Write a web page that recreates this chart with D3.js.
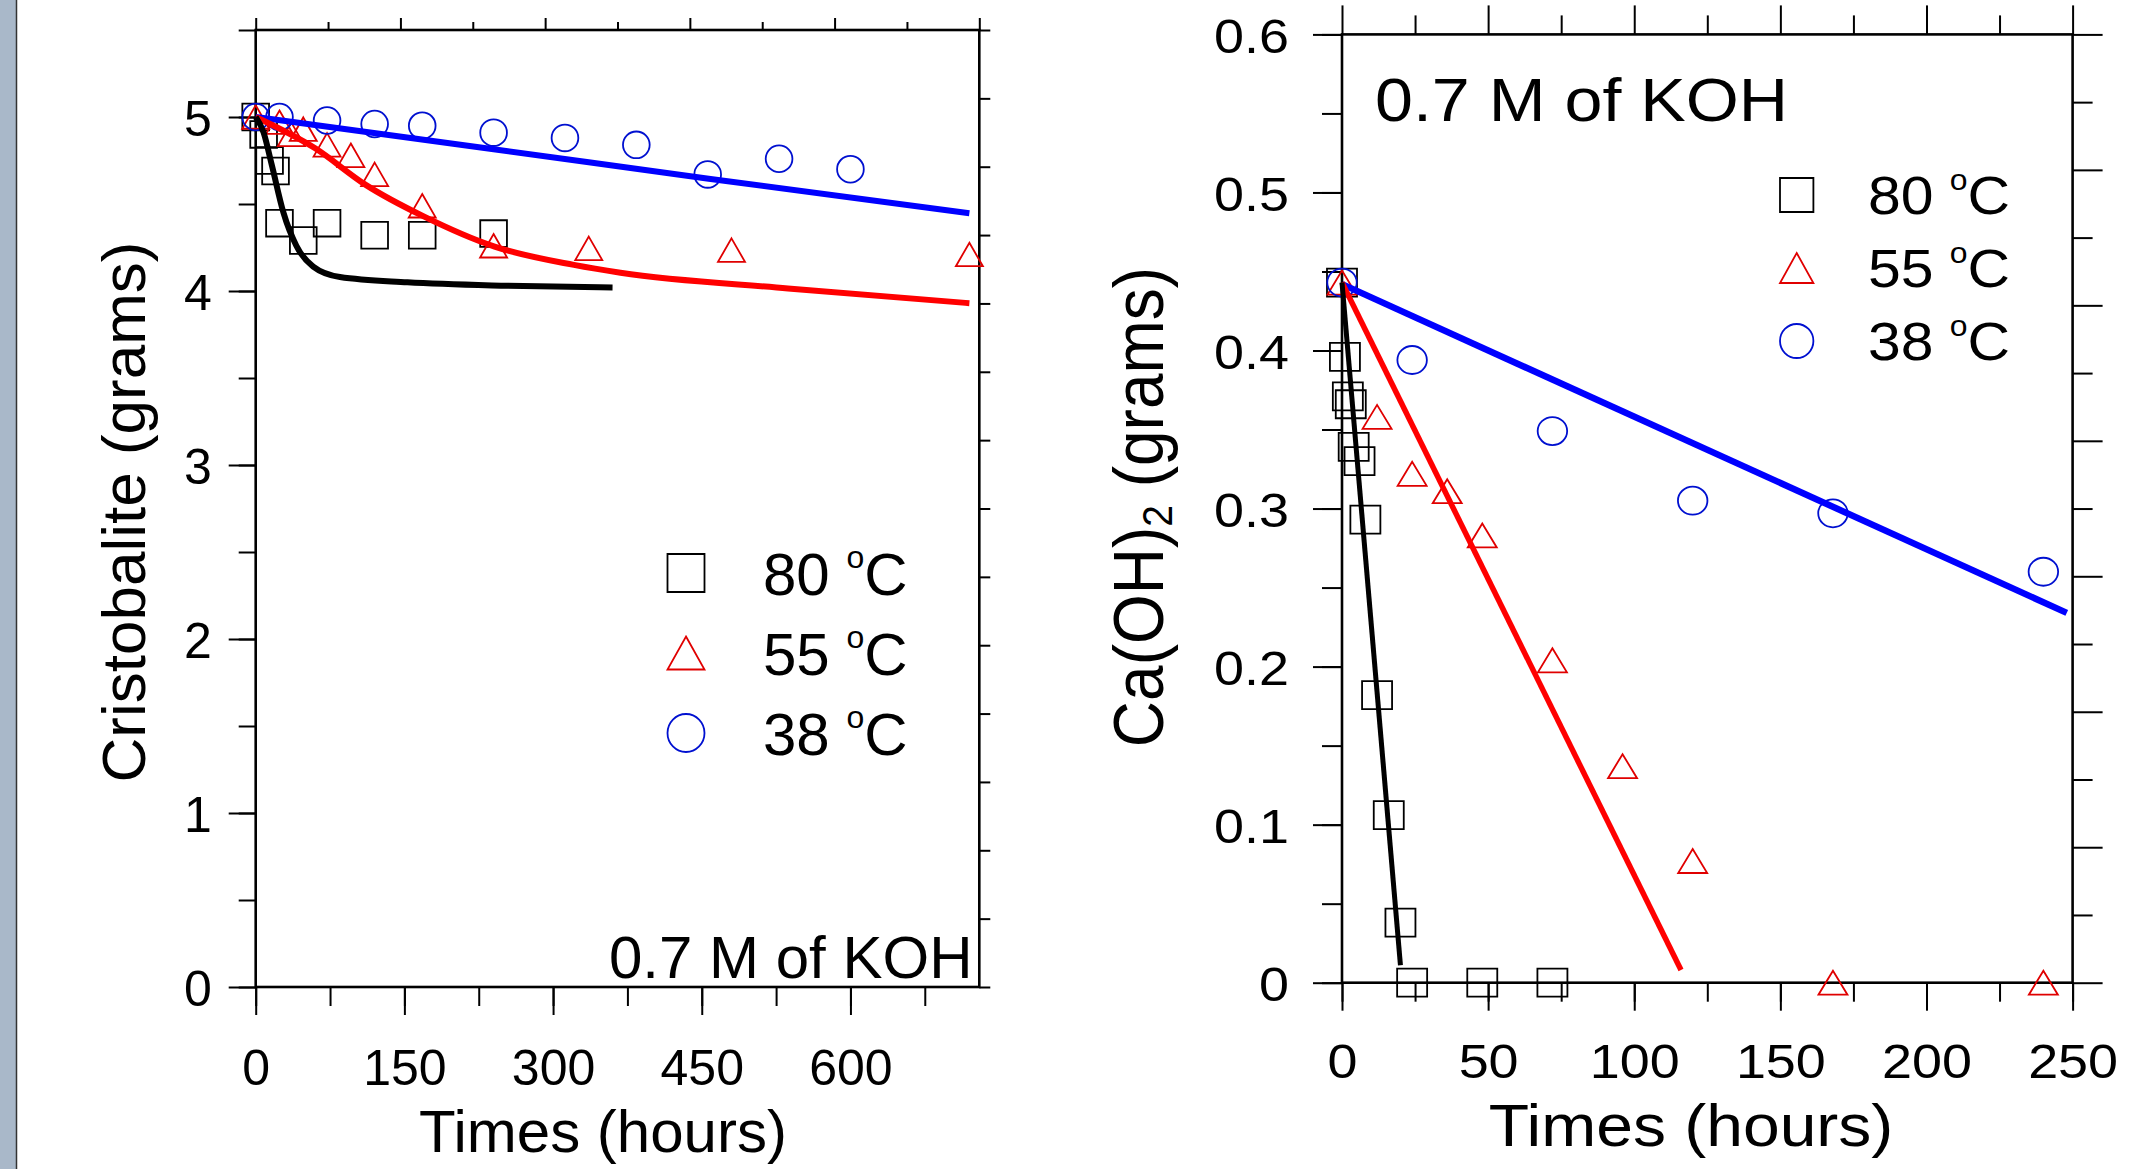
<!DOCTYPE html>
<html>
<head>
<meta charset="utf-8">
<script src="https://cdn.jsdelivr.net/npm/d3@7"></script>
<style>
  body { margin: 0; background: #fff; }
  svg text { font-family: "Liberation Sans", Arial, sans-serif; fill: #000; }
</style>
</head>
<body>
<div id="chart"></div>
<script>
// ---- data ----
// left panel: cristobalite mass (g) vs time (h)
const crisT80 = [0, 8, 14, 20, 24, 48, 72, 120, 168, 240];
const crisM80 = [5.0, 4.90, 4.75, 4.69, 4.39, 4.29, 4.39, 4.32, 4.32, 4.33];
const crisT55 = [0, 24, 36, 48, 72, 96, 120, 168, 240, 336, 480, 720];
const crisM55 = [5.0, 4.97, 4.90, 4.93, 4.84, 4.78, 4.67, 4.49, 4.26, 4.245, 4.235, 4.21];
const crisT38 = [0, 24, 72, 120, 168, 240, 312, 384, 456, 528, 600];
const crisM38 = [5.0, 5.0, 4.98, 4.96, 4.95, 4.91, 4.88, 4.84, 4.67, 4.76, 4.70];
// model curves (left)
const fitT80 = [0, 8, 16, 28, 41, 58, 85, 153, 254, 360];
const fitM80 = [5.0, 4.91, 4.73, 4.45, 4.26, 4.14, 4.08, 4.05, 4.03, 4.02];
const fitT55 = [0, 60, 111, 169, 241, 321, 368, 537, 720];
const fitM55 = [5.0, 4.82, 4.61, 4.43, 4.255, 4.15, 4.105, 4.015, 3.93];
const fitT38 = [0, 240, 457, 720];
const fitM38 = [5.0, 4.815, 4.645, 4.447];

// right panel: Ca(OH)2 mass (g) vs time (h)
const caT80 = [0, 1, 2, 3, 4, 6, 8, 12, 16, 20, 24, 48, 72];
const caM80 = [0.443, 0.396, 0.371, 0.366, 0.339, 0.330, 0.293, 0.182, 0.106, 0.038, 0, 0, 0];
const caT55 = [0, 12, 24, 36, 48, 72, 96, 120, 168, 240];
const caM55 = [0.443, 0.358, 0.322, 0.311, 0.283, 0.204, 0.137, 0.077, 0, 0];
const caT38 = [0, 24, 72, 120, 168, 240];
const caM38 = [0.443, 0.394, 0.349, 0.305, 0.297, 0.260];
// linear fits (right)
const lineT80 = [0, 20], lineM80 = [0.443, 0.011];
const lineT55 = [0, 116], lineM55 = [0.443, 0.008];
const lineT38 = [0, 248], lineM38 = [0.442, 0.234];

const legendLabels = ["80", "55", "38"];
const crisTicksX = [0, 150, 300, 450, 600];
const crisTicksY = [0, 1, 2, 3, 4, 5];
const caTicksX = [0, 50, 100, 150, 200, 250];
const caTicksY = [0, 0.1, 0.2, 0.3, 0.4, 0.5, 0.6];

const zip = (a, b) => a.map((v, i) => [v, b[i]]);

const svg = d3.select("#chart").append("svg")
    .attr("width", 2148)
    .attr("height", 1169);

svg.append("rect").attr("width", 2148).attr("height", 1169).attr("fill", "#fff");
// grey strip on the left edge
svg.append("rect").attr("x", 0).attr("y", 0).attr("width", 16).attr("height", 1169).attr("fill", "#a9b8c9");
svg.append("line").attr("x1", 16.5).attr("x2", 16.5).attr("y1", 0).attr("y2", 1169)
    .attr("stroke", "#333").attr("stroke-width", 1.5);

const colors = {k: "#000", r: "#e00000", b: "#0010d0"};
const lineColors = {k: "#000", r: "#ff0000", b: "#0000ff"};

function shapePath(shape, w, h) {
  if (shape === "square") return `M${-w/2},${-h/2}h${w}v${h}h${-w}Z`;
  if (shape === "tri") return `M0,${-h/2}L${w/2},${h/2}L${-w/2},${h/2}Z`;
  // ellipse via two arcs
  return `M${-w/2},0A${w/2},${h/2} 0 1,0 ${w/2},0A${w/2},${h/2} 0 1,0 ${-w/2},0Z`;
}

function drawMarkers(g, pts, x, y, shape, w, h, color) {
  g.append("g").selectAll("path")
    .data(pts)
    .enter().append("path")
      .attr("transform", d => `translate(${x(d[0])},${y(d[1])})`)
      .attr("d", shapePath(shape, w, h))
      .attr("fill", "none")
      .attr("stroke", color)
      .attr("stroke-width", 1.8);
}

function styleAxis(sel, sw) {
  sel.select(".domain").remove();
  sel.selectAll("line").attr("stroke", "#000").attr("stroke-width", sw);
}

// ================= LEFT PANEL =================
const xL = d3.scaleLinear().domain([0, 730]).range([255.7, 979.3]);
const yL = d3.scaleLinear().domain([0, 5.5]).range([987, 30]);
const gL = svg.append("g");

// minor / major ticks
gL.append("g").attr("transform", "translate(255.7,0)")
  .call(d3.axisLeft(yL).tickValues(d3.range(0, 5.51, 0.5)).tickSize(17).tickFormat(""))
  .call(styleAxis, 2);
gL.append("g").attr("transform", "translate(255.7,0)")
  .call(d3.axisLeft(yL).tickValues(crisTicksY).tickSize(27).tickPadding(17).tickFormat(d3.format("d")))
  .call(styleAxis, 2)
  .call(a => a.selectAll("text").attr("font-size", 50).attr("dy", "0.36em"));

gL.append("g").attr("transform", "translate(0,987)")
  .call(d3.axisBottom(xL).tickValues(d3.range(0, 676, 75)).tickSize(19).tickFormat(""))
  .call(styleAxis, 2);
gL.append("g").attr("transform", "translate(0,987)")
  .call(d3.axisBottom(xL).tickValues(crisTicksX).tickSize(28).tickPadding(34).tickFormat(d3.format("d")))
  .call(styleAxis, 2)
  .call(a => a.selectAll("text").attr("font-size", 50));

// top and right decorative ticks
const topL = d3.scaleLinear().domain([0, 10]).range([255.7, 979.3]);
gL.append("g").attr("transform", "translate(0,30)")
  .call(d3.axisTop(topL).tickValues([1, 3, 5, 7, 9]).tickSize(8).tickFormat(""))
  .call(styleAxis, 2);
gL.append("g").attr("transform", "translate(0,30)")
  .call(d3.axisTop(topL).tickValues([0, 2, 4, 6, 8, 10]).tickSize(12).tickFormat(""))
  .call(styleAxis, 2);
const rightL = d3.scaleLinear().domain([0, 14]).range([987, 30]);
gL.append("g").attr("transform", "translate(979.3,0)")
  .call(d3.axisRight(rightL).tickValues(d3.range(0, 15)).tickSize(11).tickFormat(""))
  .call(styleAxis, 2);

gL.append("rect")
  .attr("x", 255.7).attr("y", 30)
  .attr("width", 979.3 - 255.7).attr("height", 987 - 30)
  .attr("fill", "none").attr("stroke", "#000").attr("stroke-width", 2.6);

drawMarkers(gL, zip(crisT80, crisM80), xL, yL, "square", 26.7, 26.7, colors.k);
drawMarkers(gL, zip(crisT55, crisM55), xL, yL, "tri", 27, 23.5, colors.r);
drawMarkers(gL, zip(crisT38, crisM38), xL, yL, "circle", 26.7, 26.7, colors.b);

const curveL = d3.line().x(d => xL(d[0])).y(d => yL(d[1])).curve(d3.curveMonotoneX);
[[fitT38, fitM38, "b"], [fitT55, fitM55, "r"], [fitT80, fitM80, "k"]].forEach(([t, m, c]) => {
  gL.append("path")
    .datum(zip(t, m))
    .attr("fill", "none")
    .attr("stroke", lineColors[c])
    .attr("stroke-width", 6)
    .attr("d", curveL);
});

gL.append("text")
  .attr("x", 609).attr("y", 978)
  .attr("font-size", 60)
  .text("0.7 M of KOH");

gL.append("text")
  .attr("x", 603).attr("y", 1152)
  .attr("text-anchor", "middle")
  .attr("font-size", 60)
  .text("Times (hours)");

gL.append("text")
  .attr("transform", "translate(145,512) rotate(-90)")
  .attr("text-anchor", "middle")
  .attr("font-size", 62)
  .text("Cristobalite (grams)");

// legend left
const legShapes = [["square", "k"], ["tri", "r"], ["circle", "b"]];
legShapes.forEach(([s, c], i) => {
  const cy = 573 + i * 80;
  gL.append("path")
    .attr("transform", `translate(686,${cy})`)
    .attr("d", shapePath(s, 37, s === "tri" ? 33 : 38))
    .attr("fill", "none").attr("stroke", colors[c]).attr("stroke-width", 1.8);
  const t = gL.append("text").attr("x", 763).attr("y", cy + 22).attr("font-size", 60);
  t.append("tspan").text(legendLabels[i] + " ");
  t.append("tspan").attr("font-size", 32).attr("dy", -27).text("o");
  t.append("tspan").attr("dy", 27).text("C");
});

// ================= RIGHT PANEL =================
const xR = d3.scaleLinear().domain([0, 250]).range([1342, 2072.6]);
const yR = d3.scaleLinear().domain([0, 0.6]).range([982.7, 34.4]);
const gR = svg.append("g");
const sx = 1.1; // right panel text is slightly wider

function stretchText(sel) {
  sel.each(function() {
    const t = d3.select(this);
    const x = +t.attr("x") || 0;
    t.attr("x", 0).attr("transform", `translate(${x},0) scale(${sx},1)`);
  });
}

gR.append("g").attr("transform", "translate(1342,0)")
  .call(d3.axisLeft(yR).tickValues(d3.range(0, 13).map(i => i * 0.05)).tickSize(20).tickFormat(""))
  .call(styleAxis, 2);
gR.append("g").attr("transform", "translate(1342,0)")
  .call(d3.axisLeft(yR).tickValues(caTicksY).tickSize(29).tickPadding(24)
        .tickFormat(d => d === 0 ? "0" : d3.format(".1f")(d)))
  .call(styleAxis, 2)
  .call(a => a.selectAll("text").attr("font-size", 49).attr("dy", "0.36em").call(stretchText));

gR.append("g").attr("transform", "translate(0,982.7)")
  .call(d3.axisBottom(xR).tickValues(d3.range(0, 251, 25)).tickSize(19).tickFormat(""))
  .call(styleAxis, 2);
gR.append("g").attr("transform", "translate(0,982.7)")
  .call(d3.axisBottom(xR).tickValues(caTicksX).tickSize(28).tickPadding(33).tickFormat(d3.format("d")))
  .call(styleAxis, 2)
  .call(a => a.selectAll("text").attr("font-size", 49))
  .call(a => a.selectAll("text").attr("transform", `scale(${sx},1)`));

gR.append("g").attr("transform", "translate(0,34.4)")
  .call(d3.axisTop(xR).tickValues(d3.range(25, 251, 50)).tickSize(19).tickFormat(""))
  .call(styleAxis, 2);
gR.append("g").attr("transform", "translate(0,34.4)")
  .call(d3.axisTop(xR).tickValues(caTicksX).tickSize(29).tickFormat(""))
  .call(styleAxis, 2);

const rightR = d3.scaleLinear().domain([0, 14]).range([982.7, 34.4]);
gR.append("g").attr("transform", "translate(2072.6,0)")
  .call(d3.axisRight(rightR).tickValues(d3.range(1, 15, 2)).tickSize(20).tickFormat(""))
  .call(styleAxis, 2);
gR.append("g").attr("transform", "translate(2072.6,0)")
  .call(d3.axisRight(rightR).tickValues(d3.range(0, 15, 2)).tickSize(30).tickFormat(""))
  .call(styleAxis, 2);

gR.append("rect")
  .attr("x", 1342).attr("y", 34.4)
  .attr("width", 2072.6 - 1342).attr("height", 982.7 - 34.4)
  .attr("fill", "none").attr("stroke", "#000").attr("stroke-width", 2.6);

drawMarkers(gR, zip(caT80, caM80), xR, yR, "square", 30, 28, colors.k);
drawMarkers(gR, zip(caT55, caM55), xR, yR, "tri", 29, 24, colors.r);
drawMarkers(gR, zip(caT38, caM38), xR, yR, "circle", 29.5, 28, colors.b);

const lineR = d3.line().x(d => xR(d[0])).y(d => yR(d[1]));
[[lineT38, lineM38, "b", 6.5], [lineT55, lineM55, "r", 5.5], [lineT80, lineM80, "k", 5]].forEach(([t, m, c, w]) => {
  gR.append("path")
    .datum(zip(t, m))
    .attr("fill", "none")
    .attr("stroke", lineColors[c])
    .attr("stroke-width", w)
    .attr("d", lineR);
});

gR.append("text")
  .attr("transform", `translate(1375,120.5) scale(${sx},1)`)
  .attr("font-size", 62)
  .text("0.7 M of KOH");

gR.append("text")
  .attr("transform", `translate(1691,1146) scale(${sx},1)`)
  .attr("text-anchor", "middle")
  .attr("font-size", 60)
  .text("Times (hours)");

const yTitle = gR.append("text")
  .attr("transform", "translate(1163,507) rotate(-90) scale(1,1.1)")
  .attr("text-anchor", "middle")
  .attr("font-size", 64);
yTitle.append("tspan").text("Ca(OH)");
yTitle.append("tspan").attr("font-size", 39).attr("dy", 8).text("2");
yTitle.append("tspan").attr("dy", -8).text(" (grams)");

// legend right
legShapes.forEach(([s, c], i) => {
  const cy = 195 + i * 73;
  gR.append("path")
    .attr("transform", `translate(1796.7,${cy})`)
    .attr("d", shapePath(s, 33.4, s === "tri" ? 30 : 34))
    .attr("fill", "none").attr("stroke", colors[c]).attr("stroke-width", 1.8);
  const t = gR.append("text")
    .attr("transform", `translate(1868,${cy + 19}) scale(${sx},1)`)
    .attr("font-size", 53.5);
  t.append("tspan").text(legendLabels[i] + " ");
  t.append("tspan").attr("font-size", 29).attr("dy", -24).text("o");
  t.append("tspan").attr("dy", 24).text("C");
});
</script>
</body>
</html>
